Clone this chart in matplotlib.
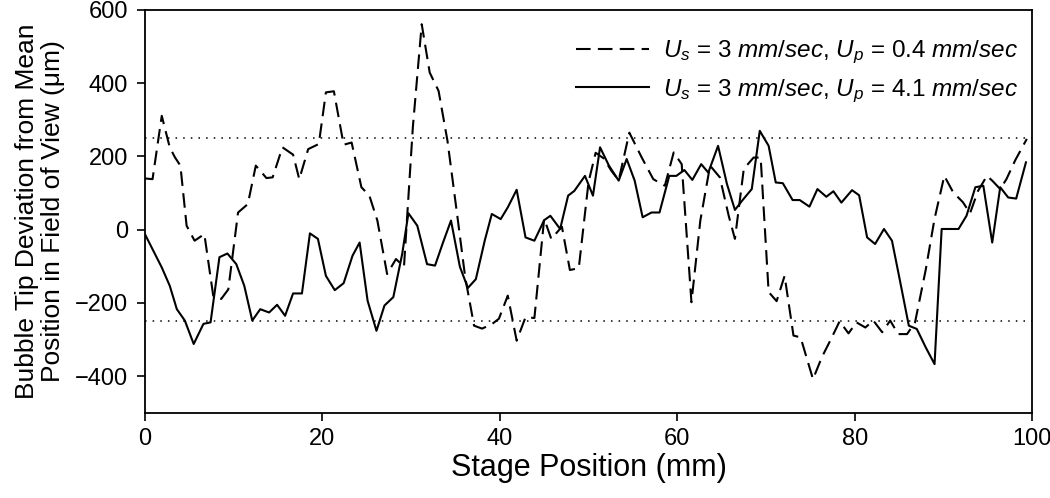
import matplotlib
matplotlib.use("Agg")
import matplotlib.pyplot as plt
import numpy as np

plt.rcParams["font.family"] = ["Liberation Sans", "DejaVu Sans"]
plt.rcParams["mathtext.fontset"] = "custom"
plt.rcParams["mathtext.rm"] = "Liberation Sans"
plt.rcParams["mathtext.it"] = "Liberation Sans:italic"

# Us = 3 mm/sec, Up = 0.4 mm/sec (dashed)
x_slow = [0.0, 0.86, 1.9, 2.8, 3.4, 4.0, 4.7, 5.6, 6.7, 7.7, 8.6, 9.4, 10.5, 11.6,
          12.5, 13.7, 14.4, 15.5, 16.7, 17.4, 18.4, 19.6, 20.4, 21.3, 22.4, 23.3,
          24.4, 25.3, 26.2, 27.3, 28.3, 29.2, 30.2, 31.2, 32.1, 33.1, 34.1, 35.2,
          36.1, 37.1, 38.0, 39.1, 39.9, 40.9, 41.9, 42.9, 43.9, 45.0, 45.8, 47.0,
          47.9, 48.9, 50.0, 50.8, 51.7, 52.6, 53.4, 54.6, 56.0, 57.3, 58.6, 59.6,
          60.5, 61.6, 62.6, 63.7, 64.8, 65.8, 66.5, 67.5, 68.6, 69.4, 70.3, 71.2,
          72.1, 73.1, 73.9, 75.3, 76.3, 77.3, 78.3, 79.3, 80.2, 81.2, 82.1, 83.1,
          84.0, 84.9, 85.9, 86.8, 88.0, 89.0, 90.1, 91.1, 92.2, 93.0, 93.9, 94.9,
          95.5, 96.4, 97.1, 98.1, 99.4]
y_slow = [140, 138, 311, 225, 197, 175, 11, -30, -12, -180, -189, -163, 47, 70,
          175, 141, 143, 225, 205, 138, 220, 234, 375, 378, 232, 238,
          116, 93, 25, -121, -80, -101, 280, 561, 429, 379, 243, 40,
          -130, -262, -270, -258, -243, -180, -303, -239, -241, 30, -25, 8,
          -110, -105, 130, 210, 195, 160, 135, 265, 197, 138, 120, 211,
          179, -198, 25, 175, 143, 38, -25, 166, 197, 197, -170, -195,
          -126, -289, -294, -408, -348, -300, -250, -283, -253, -267, -248, -280,
          -248, -285, -285, -253, -110, 30, 147, 102, 75, 45, 106, 147,
          134, 111, 138, 190, 248]

# Us = 3 mm/sec, Up = 4.1 mm/sec (solid)
x_fast = [0.0, 0.94, 1.9, 2.8, 3.6, 4.5, 5.5, 6.6, 7.4, 8.4, 9.3, 10.3, 11.2, 12.1,
          13.0, 14.0, 14.9, 15.8, 16.7, 17.7, 18.6, 19.5, 20.4, 21.4, 22.4, 23.4,
          24.2, 25.1, 26.1, 27.0, 28.0, 29.0, 29.7, 30.7, 31.8, 32.7, 33.6, 34.5,
          35.5, 36.4, 37.3, 38.3, 39.1, 40.1, 40.9, 41.9, 42.9, 43.9, 45.0, 45.7,
          46.8, 47.7, 48.4, 49.6, 50.5, 51.3, 52.3, 53.4, 54.3, 55.2, 56.1, 57.1,
          58.0, 59.1, 59.9, 60.8, 61.7, 62.7, 63.5, 64.6, 65.6, 66.5, 67.3, 68.4,
          69.3, 70.3, 71.1, 71.9, 73.0, 73.8, 74.9, 75.8, 76.8, 77.6, 78.5, 79.7,
          80.5, 81.4, 82.3, 83.3, 84.2, 85.1, 86.1, 87.0, 88.0, 89.0, 89.8, 90.9,
          91.7, 92.6, 93.6, 94.5, 95.5, 96.4, 97.3, 98.2, 99.3]
y_fast = [-12, -57, -103, -153, -217, -248, -312, -257, -253, -75, -65, -94, -153, -248,
          -217, -226, -205, -235, -174, -174, -10, -25, -126, -165, -146, -71,
          -35, -194, -276, -207, -184, -66, 45, 11, -94, -98, -35, 25,
          -101, -159, -135, -30, 43, 29, 61, 109, -21, -30, 26, 38,
          2, 93, 106, 147, 93, 225, 175, 134, 193, 134, 34, 47,
          47, 147, 147, 163, 136, 179, 156, 229, 125, 54, 79, 111,
          270, 229, 129, 127, 81, 81, 63, 111, 90, 105, 74, 108,
          94, -21, -39, 2, -30, -139, -262, -271, -321, -367, 2, 2,
          2, 38, 116, 120, -35, 116, 88, 85, 184]

label_slow = r"$U_s$ = 3 $mm/sec$, $U_p$ = 0.4 $mm/sec$"
label_fast = r"$U_s$ = 3 $mm/sec$, $U_p$ = 4.1 $mm/sec$"
limit = 250

fig = plt.figure(figsize=(10.5, 4.98), dpi=100)
ax = fig.add_axes([0.138, 0.171, 0.845, 0.809])

ax.plot(x_slow, y_slow, color="black", lw=1.5, dashes=(7, 3.5), label=label_slow)
ax.plot(x_fast, y_fast, color="black", lw=1.5, label=label_fast)

# tolerance band
ax.axhline(limit, color="black", lw=1.1, ls=(0, (1, 4)))
ax.axhline(-limit, color="black", lw=1.1, ls=(0, (1, 4)))

ax.set_xlim(0, 100)
ax.set_ylim(-500, 600)
ax.set_xticks(np.arange(0, 101, 20))
ax.set_yticks(np.arange(-400, 601, 200))
ax.tick_params(direction="out", length=6, width=1.2, labelsize=17,
               top=False, right=False)
ax.tick_params(axis="y", pad=6)
ax.tick_params(axis="x", pad=5)
for s in ax.spines.values():
    s.set_linewidth(1.3)

ax.set_xlabel("Stage Position (mm)", fontsize=22, labelpad=2)
ax.set_ylabel("Bubble Tip Deviation from Mean\nPosition in Field of View (μm)",
              fontsize=19, labelpad=7, linespacing=1.1)

ax.legend(loc="upper right", bbox_to_anchor=(0.99, 0.94), frameon=False,
          fontsize=17.5, handlelength=3.0, handletextpad=0.6,
          borderaxespad=0, borderpad=0.2, labelspacing=0.45)

fig.savefig("out.png", dpi=100)
